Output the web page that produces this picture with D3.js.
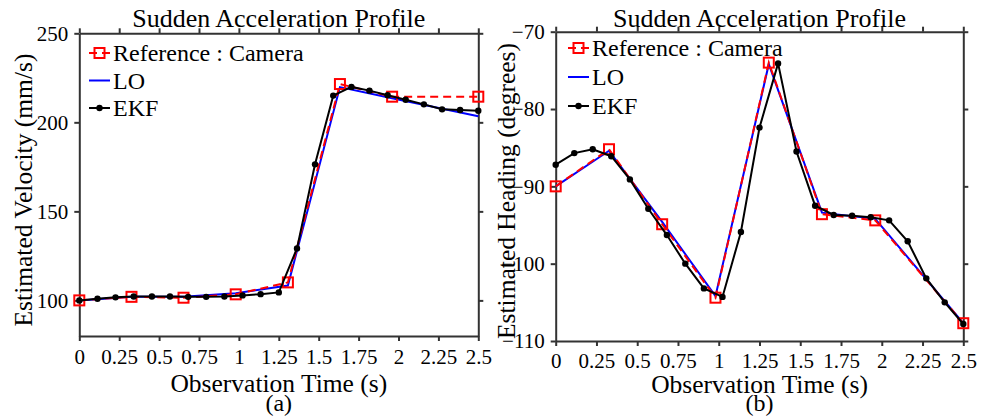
<!DOCTYPE html>
<html>
<head>
<meta charset="utf-8">
<script src="https://cdn.jsdelivr.net/npm/d3@7"></script>
<style>
  body { margin: 0; background: #fff; }
  svg text { font-family: "Liberation Serif", "Times New Roman", serif; fill: #000; }
  .ax path, .ax line { stroke: #333; stroke-width: 2px; }
</style>
</head>
<body>
<script>
const WIDTH = 987;
const HEIGHT = 417;

// time axis ticks
var xTicks = [0, 0.25, 0.5, 0.75, 1, 1.25, 1.5, 1.75, 2, 2.25, 2.5];
var xTickLabels = ['0', '0.25', '0.5', '0.75', '1', '1.25', '1.5', '1.75', '2', '2.25', '2.5'];

// camera samples (reference) and LO share the same times
var camTime = [0, 0.327, 0.653, 0.98, 1.307, 1.633, 1.96, 2.5];
// EKF runs at a faster rate
var ekfTime = [0, 0.114, 0.227, 0.341, 0.455, 0.568, 0.682, 0.795, 0.909, 1.023, 1.136,
               1.25, 1.364, 1.477, 1.591, 1.705, 1.818, 1.932, 2.045, 2.159, 2.273, 2.386, 2.5];

// (a) velocity, mm/s
var velCamera = [100, 102, 101.5, 103.4, 110.1, 221.5, 214.4, 214.4];
var velLO = [100, 102, 102, 104, 108.3, 219.8, 213.5, 203.4];
var velEKF = [100, 100.9, 101.7, 102.2, 102.2, 102.2, 102, 102, 102.2, 102.8, 103.5,
              104.5, 129.2, 176.4, 215, 219.9, 217.8, 215.2, 212.7, 210.1, 207.3, 206.9, 206.5];
var velTicks = [100, 150, 200, 250];

// (b) heading, degrees
var hdgCamera = [-90, -85.2, -94.9, -104.4, -74, -93.6, -94.4, -107.7];
var hdgLO = [-90, -85.4, -94.6, -104.2, -74.2, -93.4, -94.2, -107.7];
var hdgEKF = [-87.2, -85.7, -85.2, -86.1, -89.1, -92.9, -96.3, -100, -103.2, -104.3, -95.9,
              -82.4, -74.1, -85.5, -92.5, -93.7, -93.8, -94, -94.4, -97.1, -101.9, -105, -107.8];
var hdgTicks = [-110, -100, -90, -80, -70];

var seriesNames = ['Reference : Camera', 'LO', 'EKF'];

var svg = d3.select('body').append('svg')
    .attr('width', WIDTH)
    .attr('height', HEIGHT);

function zip(t, v) {
    return t.map(function (d, i) { return {x: d, y: v[i]}; });
}

var drawPanel = function (cfg) {
    var xScale = d3.scaleLinear().domain([0, 2.5]).range([cfg.left, cfg.right]);
    var yScale = d3.scaleLinear().domain(cfg.yDomain).range([cfg.bottom, cfg.top]);
    var g = svg.append('g');

    var xAxis = d3.axisBottom(xScale).tickValues(xTicks).tickSize(5).tickSizeOuter(0)
        .tickFormat(function (d, i) { return xTickLabels[i]; });
    var xTop = d3.axisTop(xScale).tickValues(xTicks).tickSize(5).tickSizeOuter(0).tickFormat('');
    var yAxis = d3.axisLeft(yScale).tickValues(cfg.yTicks).tickSize(5).tickSizeOuter(0);
    var yRight = d3.axisRight(yScale).tickValues(cfg.yTicks).tickSize(5).tickSizeOuter(0).tickFormat('');

    var gx = g.append('g').attr('class', 'ax')
        .attr('transform', 'translate(0,' + cfg.bottom + ')').call(xAxis);
    gx.selectAll('text').attr('font-size', 21).attr('dy', null).attr('y', cfg.tickY);
    g.append('g').attr('class', 'ax')
        .attr('transform', 'translate(0,' + cfg.top + ')').call(xTop);
    var gy = g.append('g').attr('class', 'ax')
        .attr('transform', 'translate(' + cfg.left + ',0)').call(yAxis);
    gy.selectAll('text').attr('font-size', 21).attr('x', -11);
    g.append('g').attr('class', 'ax')
        .attr('transform', 'translate(' + cfg.right + ',0)').call(yRight);

    // labels
    g.append('text')
        .attr('x', (cfg.left + cfg.right) / 2).attr('y', cfg.titleY)
        .attr('text-anchor', 'middle').attr('font-size', 26)
        .text('Sudden Acceleration Profile');
    g.append('text')
        .attr('x', (cfg.left + cfg.right) / 2).attr('y', cfg.xLabelY)
        .attr('text-anchor', 'middle').attr('font-size', 25.5)
        .text('Observation Time (s)');
    g.append('text')
        .attr('x', (cfg.left + cfg.right) / 2).attr('y', cfg.subY)
        .attr('text-anchor', 'middle').attr('font-size', 24)
        .text(cfg.sub);
    g.append('text')
        .attr('transform', 'translate(' + cfg.yLabelX + ',' + cfg.yLabelY + ') rotate(-90)')
        .attr('text-anchor', 'middle').attr('font-size', 25.5)
        .text(cfg.yLabel);

    var line = d3.line()
        .x(function (d) { return xScale(d.x); })
        .y(function (d) { return yScale(d.y); });

    var cam = zip(camTime, cfg.camera);
    var lo = zip(camTime, cfg.lo);
    var ekf = zip(ekfTime, cfg.ekf);

    g.append('path').attr('d', line(lo))
        .attr('fill', 'none').attr('stroke', '#0000ff').attr('stroke-width', 2);
    g.append('path').attr('d', line(cam))
        .attr('fill', 'none').attr('stroke', '#ff0000').attr('stroke-width', 2)
        .attr('stroke-dasharray', '8,5');
    g.selectAll('rect.cam').data(cam).enter().append('rect')
        .attr('class', 'cam')
        .attr('x', function (d) { return xScale(d.x) - 5; })
        .attr('y', function (d) { return yScale(d.y) - 5; })
        .attr('width', 10).attr('height', 10)
        .attr('fill', 'none').attr('stroke', '#ff0000').attr('stroke-width', 2);
    g.append('path').attr('d', line(ekf))
        .attr('fill', 'none').attr('stroke', '#000').attr('stroke-width', 2);
    g.selectAll('circle.ekf').data(ekf).enter().append('circle')
        .attr('class', 'ekf')
        .attr('cx', function (d) { return xScale(d.x); })
        .attr('cy', function (d) { return yScale(d.y); })
        .attr('r', 3.2).attr('fill', '#000');

    // legend
    var lg = g.append('g').attr('transform', 'translate(' + cfg.legX + ',' + cfg.legY + ')');
    seriesNames.forEach(function (name, i) {
        var y = i * cfg.legStep;
        var row = lg.append('g').attr('transform', 'translate(0,' + y + ')');
        if (i === 0) {
            row.append('line').attr('x1', 0).attr('x2', 21).attr('y1', 0).attr('y2', 0)
                .attr('stroke', '#ff0000').attr('stroke-width', 2).attr('stroke-dasharray', '8,5');
            row.append('rect').attr('x', 5.5).attr('y', -5).attr('width', 10).attr('height', 10)
                .attr('fill', 'none').attr('stroke', '#ff0000').attr('stroke-width', 2);
        } else if (i === 1) {
            row.append('line').attr('x1', 0).attr('x2', 21).attr('y1', 0).attr('y2', 0)
                .attr('stroke', '#0000ff').attr('stroke-width', 2);
        } else {
            row.append('line').attr('x1', 0).attr('x2', 21).attr('y1', 0).attr('y2', 0)
                .attr('stroke', '#000').attr('stroke-width', 2);
            row.append('circle').attr('cx', 10.5).attr('cy', 0).attr('r', 3.2).attr('fill', '#000');
        }
        row.append('text').attr('x', 24).attr('y', 8).attr('font-size', 24).text(name);
    });
};

drawPanel({
    left: 79.3, right: 478.3, top: 33.3, bottom: 336,
    yDomain: [80, 250], yTicks: velTicks,
    camera: velCamera, lo: velLO, ekf: velEKF,
    yLabel: 'Estimated Velocity (mm/s)', yLabelX: 32, yLabelY: 190,
    sub: '(a)', titleY: 27, tickY: 28, xLabelY: 392, subY: 411,
    legX: 89, legY: 53, legStep: 27.5
});

drawPanel({
    left: 555.7, right: 963.3, top: 31.7, bottom: 341,
    yDomain: [-110, -70], yTicks: hdgTicks,
    camera: hdgCamera, lo: hdgLO, ekf: hdgEKF,
    yLabel: 'Estimated Heading (degrees)', yLabelX: 515, yLabelY: 191,
    sub: '(b)', titleY: 27, tickY: 27, xLabelY: 393, subY: 411,
    legX: 568, legY: 48, legStep: 29
});
</script>
</body>
</html>
